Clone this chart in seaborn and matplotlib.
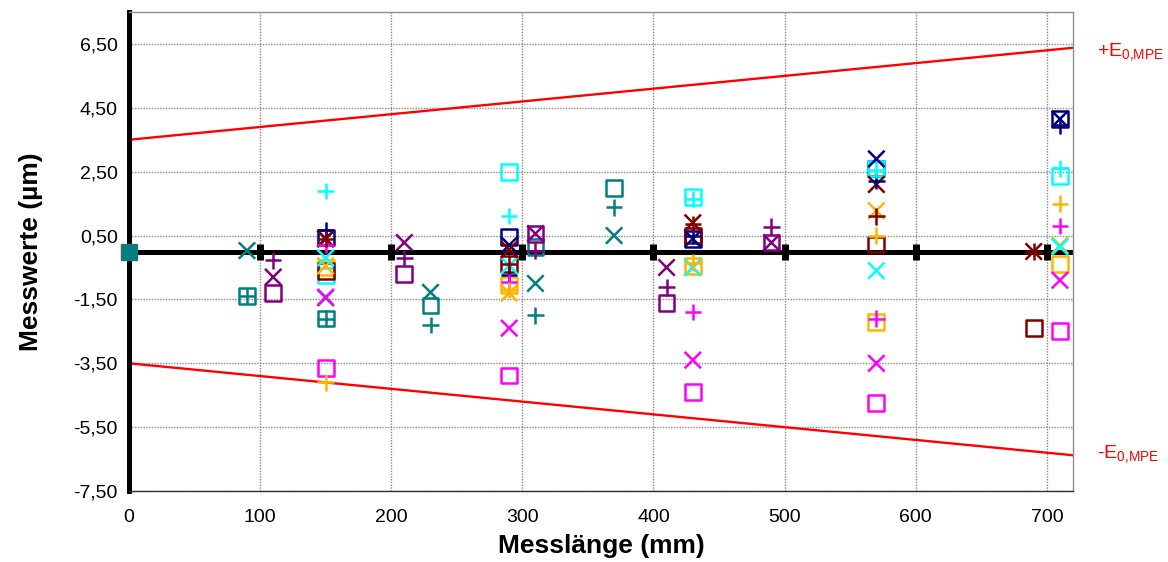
import matplotlib
matplotlib.use("Agg")
import matplotlib.pyplot as plt
import seaborn as sns
import pandas as pd

sns.set_style("white")
plt.rcParams['font.family'] = ['Liberation Sans', 'DejaVu Sans']
plt.rcParams['text.color'] = 'black'
plt.rcParams['axes.labelcolor'] = 'black'

# Messlängen je Richtung (mm) und Messwerte (µm): Quadrat = 1. Messung, Kreuz = 2., Plus = 3.
teal_len = [90, 150, 230, 310, 370]
teal_quadrat = [-1.40, -2.10, -1.69, 0.13, 2.00]
teal_kreuz = [0.03, -1.45, -1.28, -1.00, 0.50]
teal_plus = [-1.40, -2.10, -2.30, -2.00, 1.38]

lila_len = [110, 210, 310, 410, 490]
lila_quadrat = [-1.30, -0.70, 0.56, -1.60, 0.28]
lila_kreuz = [-0.80, 0.28, 0.56, -0.50, 0.28]
lila_plus = [-0.28, -0.20, 0.03, -1.12, 0.78]

navy_len = [150, 290, 430, 570, 710]
navy_quadrat = [0.44, 0.45, 0.40, 2.60, 4.15]
navy_kreuz = [0.40, 0.20, 0.40, 2.90, 4.15]
navy_plus = [0.66, -0.75, 0.50, 2.20, 3.95]

cyan_len = [150, 290, 430, 570, 710]
cyan_quadrat = [-0.75, 2.50, 1.70, 2.60, 2.37]
cyan_kreuz = [-0.20, -0.44, -0.50, -0.60, 0.15]
cyan_plus = [1.90, 1.12, 1.65, 2.55, 2.60]

orange_len = [150, 290, 430, 570, 710]
orange_quadrat = [-0.50, -1.05, -0.45, -2.20, -0.38]
orange_kreuz = [-0.45, -1.30, -0.50, 1.28, 0.19]
orange_plus = [-4.10, -1.20, -0.35, 0.50, 1.50]

magenta_len = [150, 290, 430, 570, 710]
magenta_quadrat = [-3.66, -3.88, -4.40, -4.75, -2.50]
magenta_kreuz = [-1.43, -2.40, -3.40, -3.50, -0.90]
magenta_plus = [0.20, -0.95, -1.90, -2.10, 0.80]

maroon_len = [150, 290, 430, 570, 690]
maroon_quadrat = [-0.60, -0.38, 0.50, 0.22, -2.40]
maroon_kreuz = [0.40, 0.06, 0.90, 2.10, 0.00]
maroon_plus = [0.40, -0.38, 0.85, 1.10, 0.00]

# Sollwert-Linie und Grenzwerte E0,MPE
soll_len = [100, 200, 300, 400, 500, 600, 700]
mpe_len = [0, 720]
mpe_plus = [3.5, 6.38]
mpe_minus = [-3.5, -6.38]

y_ticks = [6.5, 4.5, 2.5, 0.5, -1.5, -3.5, -5.5, -7.5]
x_ticks = [0, 100, 200, 300, 400, 500, 600, 700]

farben = {'navy': '#000080', 'cyan': '#00FFFF', 'orange': '#FFB400',
          'magenta': '#FF00FF', 'maroon': '#800000', 'lila': '#800080',
          'teal': '#008080'}

serien = {
    'teal': (teal_len, teal_quadrat, teal_kreuz, teal_plus),
    'lila': (lila_len, lila_quadrat, lila_kreuz, lila_plus),
    'navy': (navy_len, navy_quadrat, navy_kreuz, navy_plus),
    'magenta': (magenta_len, magenta_quadrat, magenta_kreuz, magenta_plus),
    'orange': (orange_len, orange_quadrat, orange_kreuz, orange_plus),
    'cyan': (cyan_len, cyan_quadrat, cyan_kreuz, cyan_plus),
    'maroon': (maroon_len, maroon_quadrat, maroon_kreuz, maroon_plus),
}

zeilen = []
for name, (laenge, q, k, p) in serien.items():
    for messung, werte in (('Quadrat', q), ('Kreuz', k), ('Plus', p)):
        for l, w in zip(laenge, werte):
            zeilen.append({'Richtung': name, 'Messung': messung, 'Länge': l, 'Wert': w})
df = pd.DataFrame(zeilen)

fig, ax = plt.subplots(figsize=(11.68, 5.62), dpi=100)
fig.subplots_adjust(left=0.1104, right=0.9187, top=0.9786, bottom=0.1263)

ax.grid(True, color='#8a8a8a', linestyle=(0, (1, 1)), linewidth=1)
ax.set_axisbelow(True)

# Grenzwerte
ax.plot(mpe_len, mpe_plus, color='red', lw=1.7, zorder=2)
ax.plot(mpe_len, mpe_minus, color='red', lw=1.7, zorder=2)

# Nulllinie mit Sollwert-Markierungen
ax.axhline(0, color='black', lw=3.6, zorder=2)
ax.plot(soll_len, [0] * len(soll_len), ls='none', marker='|', color='black',
        markersize=11, markeredgewidth=5, zorder=2)

# Messwerte
sq = df[df['Messung'] == 'Quadrat']
sns.scatterplot(data=sq, x='Länge', y='Wert', hue='Richtung', palette=farben,
                marker='s', s=130, linewidth=1.8, legend=False, ax=ax, zorder=3)
coll = ax.collections[-1]
coll.set_edgecolors(coll.get_facecolors())
coll.set_facecolors('none')

for messung, m in (('Kreuz', 'x'), ('Plus', '+')):
    teil = df[df['Messung'] == messung]
    sns.scatterplot(data=teil, x='Länge', y='Wert', hue='Richtung', palette=farben,
                    marker=m, s=140, linewidth=1.8, legend=False, ax=ax, zorder=4)

# Nullpunkt
ax.plot([0], [0], marker='s', color='#008080', markersize=11,
        markeredgecolor='#2f6f6f', clip_on=False, zorder=6)

ax.set_xlim(0, 720)
ax.set_ylim(-7.5, 7.5)
ax.set_xticks(x_ticks)
ax.set_yticks(y_ticks)
ax.set_yticklabels([f'{v:.2f}'.replace('.', ',') for v in y_ticks])
ax.tick_params(axis='y', labelsize=14, length=0, pad=8, labelcolor='black')
ax.tick_params(axis='x', labelsize=14, length=0, pad=13, labelcolor='black')

for s in ('top', 'right'):
    ax.spines[s].set_color('#909090')
    ax.spines[s].set_linewidth(1)
ax.spines['bottom'].set_color('#303030')
ax.spines['bottom'].set_linewidth(1)
ax.spines['left'].set_color('black')
ax.spines['left'].set_linewidth(3.6)

ax.set_xlabel('Messlänge (mm)', fontsize=19, fontweight='bold', labelpad=6)
ax.set_ylabel('Messwerte (µm)', fontsize=19, fontweight='bold', labelpad=22)

fig.text(0.939, 0.905, r'+E$_{\mathregular{0{,}MPE}}$', color='red', fontsize=14,
         ha='left', va='center')
fig.text(0.939, 0.190, r'-E$_{\mathregular{0{,}MPE}}$', color='red', fontsize=14,
         ha='left', va='center')

plt.savefig('out.png', dpi=100, facecolor='white')
plt.close()
